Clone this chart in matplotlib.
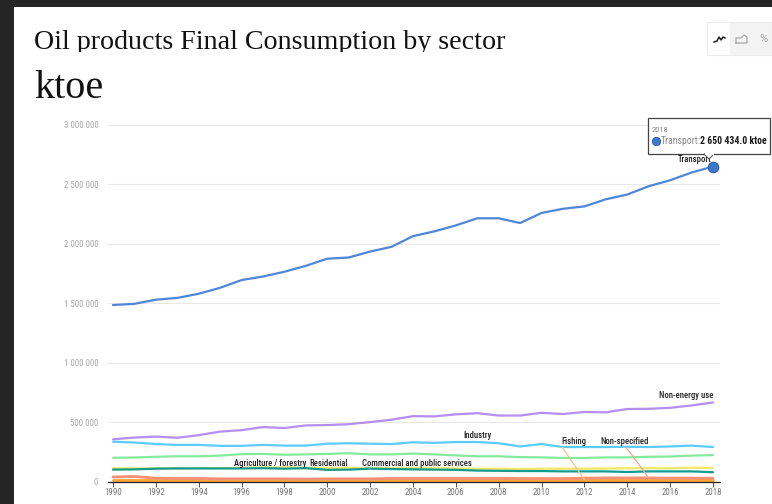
import matplotlib
matplotlib.use("Agg")
import matplotlib.pyplot as plt
from matplotlib.patches import Rectangle, Polygon

W, H = 772, 504
years = list(range(1990, 2019))
tick_years = list(range(1990, 2019, 2))
y_ticks = [0, 500000, 1000000, 1500000, 2000000, 2500000, 3000000]
y_tick_labels = ["0", "500 000", "1 000 000", "1 500 000", "2 000 000", "2 500 000", "3 000 000"]

transport = [1485, 1495, 1530, 1545, 1580, 1630, 1695, 1725, 1765, 1815, 1875, 1885, 1935, 1975, 2065,
             2105, 2155, 2215, 2215, 2175, 2260, 2295, 2315, 2375, 2415, 2485, 2535, 2600, 2650.434]
non_energy = [355, 370, 378, 368, 390, 420, 432, 458, 450, 472, 475, 482, 500, 520, 550,
              548, 565, 575, 555, 555, 578, 568, 585, 582, 610, 612, 620, 640, 665]
industry = [335, 328, 315, 308, 308, 300, 300, 308, 302, 302, 318, 322, 318, 315, 330,
            325, 332, 332, 322, 295, 315, 290, 290, 290, 292, 290, 295, 302, 290]
residential = [200, 202, 208, 212, 212, 218, 230, 232, 225, 228, 232, 238, 228, 228, 235,
               228, 220, 212, 212, 205, 203, 198, 198, 203, 203, 208, 210, 218, 222]
agriculture = [112, 110, 110, 110, 112, 112, 115, 118, 118, 115, 112, 115, 112, 112, 112,
               112, 110, 108, 108, 105, 108, 108, 108, 110, 112, 112, 112, 115, 115]
commercial = [100, 102, 108, 110, 110, 110, 110, 112, 108, 112, 98, 100, 108, 105, 102,
              100, 98, 92, 90, 88, 88, 85, 85, 85, 80, 85, 85, 85, 78]
non_specified = [38, 42, 28, 25, 25, 22, 22, 22, 22, 20, 22, 22, 22, 25, 25,
                 25, 25, 25, 25, 25, 25, 25, 28, 30, 30, 30, 28, 28, 28]
fishing = [14, 14, 14, 14, 14, 14, 14, 14, 14, 14, 14, 14, 14, 14, 14,
           14, 14, 14, 14, 14, 14, 14, 14, 14, 14, 14, 14, 14, 14]

series = [
    (fishing, "#ffa030", 2.0),
    (non_specified, "#f78f72", 2.0),
    (agriculture, "#f5e766", 1.6),
    (commercial, "#119c8e", 1.6),
    (residential, "#84ea9c", 1.6),
    (industry, "#5accff", 1.6),
    (non_energy, "#b48ef2", 1.6),
    (transport, "#4f86da", 1.6),
]

DARK = "#222222"
NARROW = ["Roboto Condensed", "Roboto", "DejaVu Sans"]
SERIF = ["Liberation Serif", "DejaVu Serif"]


def fx(px):
    return px / W


def fy(py):
    return 1 - py / H


fig = plt.figure(figsize=(W / 100, H / 100), dpi=100, facecolor="#252525")

# White page panel behind the chart
fig.add_artist(Rectangle((fx(14), 0), fx(W - 14), fy(7), transform=fig.transFigure,
                         facecolor="white", edgecolor="none", zorder=0))

# Plot area
left, right, top, bottom = 108, 720, 125, 481.5
ax = fig.add_axes([fx(left), fy(bottom), fx(right - left), (bottom - top) / H])
ax.patch.set_alpha(0)
per_year = (713 - 113) / 28
ax.set_xlim(1990 - 5 / per_year, 2018 + 7 / per_year)
ax.set_ylim(0, 3000000)
for name in ("top", "left", "right"):
    ax.spines[name].set_visible(False)
ax.spines["bottom"].set_color("#222222")
ax.spines["bottom"].set_linewidth(0.9)
ax.set_yticks(y_ticks, y_tick_labels)
ax.set_xticks(tick_years, [str(y) for y in tick_years])
ax.tick_params(axis="y", length=0, pad=7, labelsize=6.4, labelcolor="#a8a8a8")
ax.tick_params(axis="x", length=3.5, width=0.7, color="#555555", pad=1.2, labelsize=6.4, labelcolor="#777777")
for label in ax.get_xticklabels() + ax.get_yticklabels():
    label.set_family(NARROW)
ax.grid(axis="y", color="#e8e8e8", linewidth=0.8)
ax.set_axisbelow(True)

for values, color, width in series:
    ax.plot(years, [v * 1000 for v in values], color=color, linewidth=width,
            solid_capstyle="round", clip_on=False)

# Highlighted final point on the transport line
ax.plot(years[-1], transport[-1] * 1000, "o", markersize=7.5, markerfacecolor="#3f78cf",
        markeredgecolor="#2a5bab", markeredgewidth=0.8, clip_on=False, zorder=6)

# Direct series labels
label_style = dict(fontsize=6.2, family=NARROW, color=DARK, fontweight="medium",
                   ha="center", va="center", zorder=5)
fig_text = lambda px, py, s, **kw: fig.text(fx(px), fy(py), s, **kw)
fig_text(695, 160, "Transport", **label_style)
fig_text(686, 396, "Non-energy use", **label_style)
fig_text(478, 436, "Industry", **label_style)
fig_text(270, 463, "Agriculture / forestry", **label_style)
fig_text(329, 463, "Residential", **label_style)
fig_text(417, 463, "Commercial and public services", **label_style)

# Labels joined to their lines by a leader
leader_labels = [
    ("Fishing", 574, 442, 2012, fishing[22] * 1000, "#f6c48a", 562),
    ("Non-specified", 625, 442, 2015, non_specified[25] * 1000, "#f5a590", 626),
    ("", 0, 0, 2002, commercial[12] * 1000, "#5bbdb3", 367),
]
for text, lx, ly, x_val, y_val, color, start_px in leader_labels:
    if text:
        fig_text(lx, ly, text, **label_style)
    start_py = 447 if text else 467
    ax.annotate("", xy=(x_val, y_val), xycoords="data",
                xytext=(fx(start_px), fy(start_py)), textcoords="figure fraction",
                arrowprops=dict(arrowstyle="-", color=color, linewidth=0.9, shrinkA=0, shrinkB=0))

# Tooltip for the 2018 transport value
box = Rectangle((fx(648), fy(154)), fx(122), 36 / H, transform=fig.transFigure,
                facecolor="white", edgecolor="#444444", linewidth=0.9, zorder=7)
fig.add_artist(box)
fig.add_artist(Polygon([(fx(704), fy(154)), (fx(709), fy(159)), (fx(714), fy(154))], closed=True,
                       transform=fig.transFigure, facecolor="white", edgecolor="#444444",
                       linewidth=0.7, zorder=7))
fig.add_artist(Rectangle((fx(704.5), fy(154.6)), fx(9), 1.2 / H, transform=fig.transFigure,
                         facecolor="white", edgecolor="none", zorder=8))
fig.text(fx(652), fy(130), "2018", fontsize=6, family=NARROW, color="#888888", va="center", zorder=9)
fig.add_artist(plt.Line2D([fx(656)], [fy(140.5)], marker="o", markersize=6, color="#3f78cf",
                          markeredgecolor="#2a5bab", markeredgewidth=0.6,
                          transform=fig.transFigure, zorder=9))
fig.text(fx(661), fy(141.5), "Transport:", fontsize=7, family=NARROW, color="#8a8a8a", va="center", zorder=9)
fig.text(fx(700.5), fy(141.5), "2 650 434.0 ktoe", fontsize=7, family=NARROW, color="#1a1a1a",
         fontweight="bold", va="center", zorder=9)

# Line / area / percent selector in the upper right
fig.add_artist(Rectangle((fx(707), fy(55)), fx(65), 33 / H, transform=fig.transFigure,
                         facecolor="#f3f3f3", edgecolor="#ececec", linewidth=0.8, zorder=1))
fig.add_artist(Rectangle((fx(708), fy(54.5)), fx(22), 32 / H, transform=fig.transFigure,
                         facecolor="white", edgecolor="none", zorder=1))
fig.add_artist(plt.Line2D([fx(p) for p in (714, 717, 719, 721, 723, 725)],
                          [fy(p) for p in (42, 41, 37, 40, 37, 38)],
                          color="#222222", linewidth=1.1, transform=fig.transFigure, zorder=2))
fig.add_artist(plt.Line2D([fx(p) for p in (736, 736, 741, 744, 747, 747, 736)],
                          [fy(p) for p in (43, 38, 38, 35, 37, 43, 43)],
                          color="#a8a8a8", linewidth=0.9, transform=fig.transFigure, zorder=2))
fig.text(fx(763), fy(39.5), "%", fontsize=8, family=["Roboto", "DejaVu Sans"], color="#a0a0a0",
         ha="center", va="center", zorder=2)

# Headline, with its descenders cut off by the block below it
fig.text(fx(34), fy(49), "Oil products Final Consumption by sector", fontsize=20.2,
         family=SERIF, color="#111111", va="baseline", zorder=3)
fig.add_artist(Rectangle((fx(30), fy(60)), fx(480), 8 / H, transform=fig.transFigure,
                         facecolor="white", edgecolor="none", zorder=4))
fig.text(fx(34), fy(98), "ktoe", fontsize=29, family=SERIF, color="#111111", va="baseline", zorder=5)

fig.savefig("out.png", dpi=100, facecolor=fig.get_facecolor())
